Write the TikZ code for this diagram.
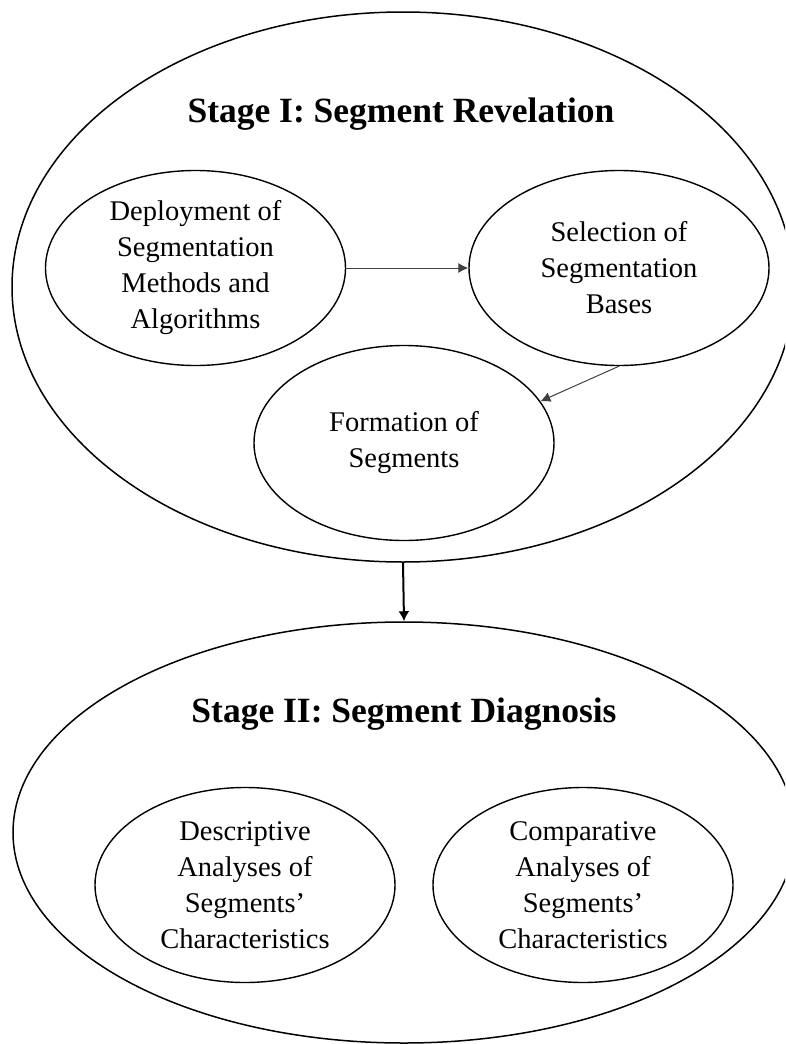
\documentclass[tikz,border=0pt]{standalone}
\usepackage{fontspec}
\setmainfont{Liberation Serif}
\usetikzlibrary{shapes.geometric,arrows.meta}
\begin{document}
\begin{tikzpicture}[x=1pt,y=-1pt,
  stage/.style={draw, ellipse, line width=1.5pt, minimum width=782pt, inner sep=0pt},
  phase/.style={draw, ellipse, line width=1.4pt, minimum width=300pt, minimum height=195pt, inner sep=0pt},
  phasetext/.style={align=center, font=\fontsize{28.5}{36}\selectfont, inner sep=0pt},
  stagetitle/.style={font=\fontsize{35.5}{40}\selectfont\bfseries, anchor=base, inner sep=0pt},
  flow/.style={draw=black!75, line width=1pt, -{Latex[length=10pt,width=10pt]}},
  stagearrow/.style={line width=2pt, -{Latex[length=10pt,width=11pt]}}
]
\useasboundingbox (0,0) rectangle (785,1044);
\clip (0,0) rectangle (785,1044);

% Stage I
\node[stage, minimum height=550pt] (s1) at (403,287) {};
\node[stagetitle] (s1-title) at (401,122) {Stage I: Segment Revelation};

\node[phase] (dep) at (195.5,268) {};
\node[phasetext] (dep-t) at (dep) {Deployment of\\Segmentation\\Methods and\\Algorithms};

\node[phase] (sel) at (619,268) {};
\node[phasetext] (sel-t) at (sel) {Selection of\\Segmentation\\Bases};

\node[phase] (form) at (404,443) {};
\node[phasetext] (form-t) at (form) {Formation of\\Segments};

\draw[flow] (dep.east) -- (sel.west);
\draw[flow] (sel.south) -- (form.17);

% Stage II
\node[stage, minimum height=421pt] (s2) at (404,832.5) {};
\node[stagetitle] (s2-title) at (404,722) {Stage II: Segment Diagnosis};

\node[phase] (desc) at (245,885) {};
\node[phasetext] (desc-t) at (desc) {Descriptive\\Analyses of\\Segments’\\Characteristics};

\node[phase] (comp) at (583,885) {};
\node[phasetext] (comp-t) at (comp) {Comparative\\Analyses of\\Segments’\\Characteristics};

\draw[stagearrow] (s1.south) -- (s2.north);
\end{tikzpicture}
\end{document}
